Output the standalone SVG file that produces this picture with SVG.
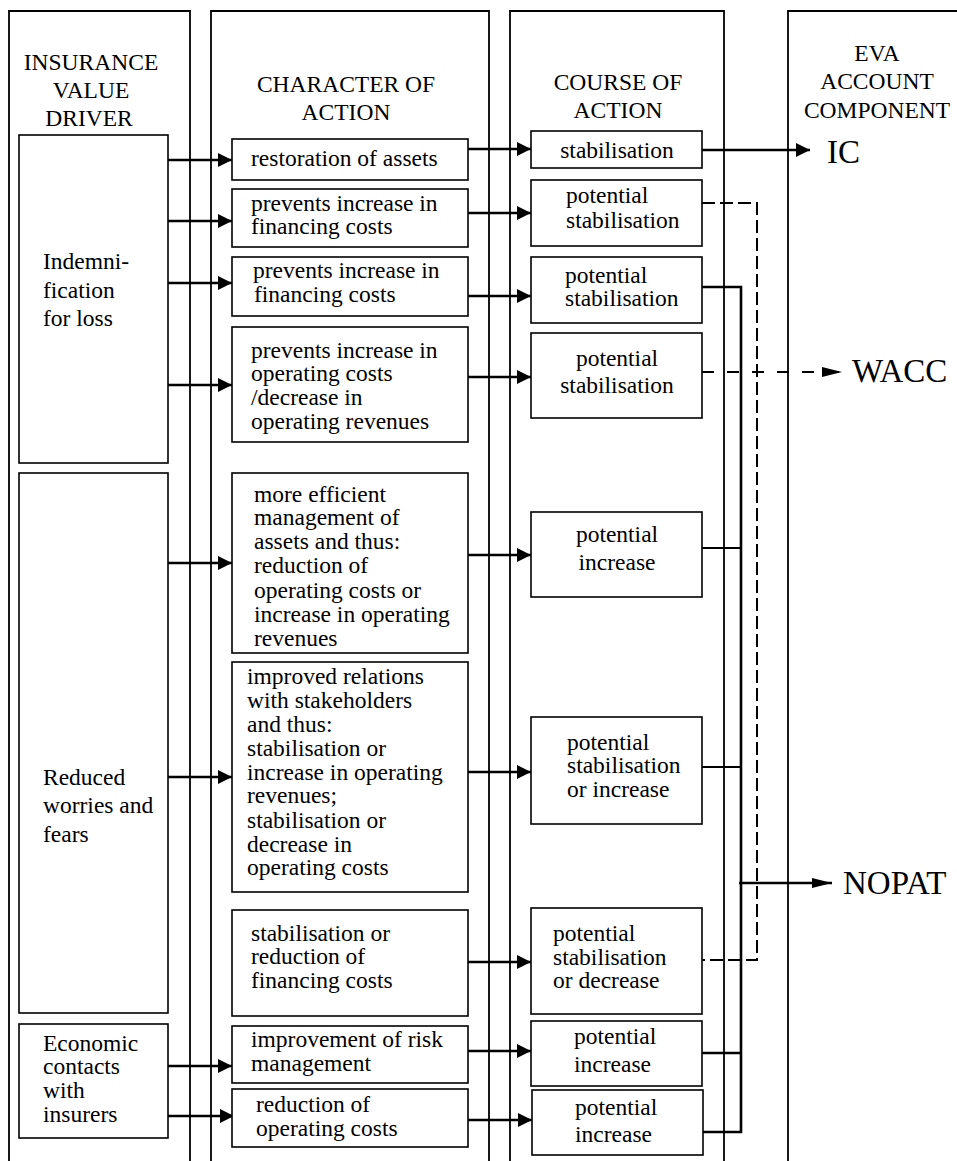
<svg xmlns="http://www.w3.org/2000/svg" width="957" height="1161" viewBox="0 0 957 1161" font-family="'Liberation Serif', 'DejaVu Serif', serif">
<defs>
<style>
text{font-family:'Liberation Serif','DejaVu Serif',serif;font-size:23.5px;fill:#000}
.c{text-anchor:middle}
.col{fill:none;stroke:#000;stroke-width:1.8}
.box{fill:#fff;stroke:#000;stroke-width:1.6}
.ln{fill:none;stroke:#000;stroke-width:2.6}
.thin{fill:none;stroke:#000;stroke-width:1.8}
.dash{fill:none;stroke:#000;stroke-width:2;stroke-dasharray:13 5}
.dash2{fill:none;stroke:#000;stroke-width:2;stroke-dasharray:12 13}
.big{font-size:33px}
</style>
<marker id="ah" viewBox="0 0 10 10" refX="10" refY="5" markerWidth="14" markerHeight="14" markerUnits="userSpaceOnUse" orient="auto">
<path d="M0,0 L10,5 L0,10 z" fill="#000"/>
</marker>
<marker id="ah2" viewBox="0 0 20 10" refX="20" refY="5" markerWidth="20" markerHeight="10" markerUnits="userSpaceOnUse" orient="auto">
<path d="M0,0 L20,5 L0,10 z" fill="#000"/>
</marker>
</defs>
<rect width="957" height="1161" fill="#fff"/>

<g id="columns">
<path class="col" d="M9,1165 V11 H190 V1165"/>
<path class="col" d="M211,1165 V11 H489 V1165"/>
<path class="col" d="M510,1165 V11 H724 V1165"/>
<path class="col" d="M788,1165 V11 H960"/>
<text class="c" x="91" y="70">INSURANCE</text>
<text class="c" x="91" y="98">VALUE</text>
<text class="c" x="89" y="126">DRIVER</text>
<text class="c" x="346" y="92">CHARACTER OF</text>
<text class="c" x="346" y="120">ACTION</text>
<text class="c" x="618" y="90">COURSE OF</text>
<text class="c" x="618" y="118">ACTION</text>
<text class="c" x="877" y="61">EVA</text>
<text class="c" x="877" y="89">ACCOUNT</text>
<text class="c" x="877" y="118">COMPONENT</text>
</g>

<g id="connectors">
<path class="ln" d="M168,160 H232" marker-end="url(#ah)"/>
<path class="ln" d="M168,221 H232" marker-end="url(#ah)"/>
<path class="ln" d="M168,283 H232" marker-end="url(#ah)"/>
<path class="ln" d="M168,385 H232" marker-end="url(#ah)"/>
<path class="ln" d="M168,563 H232" marker-end="url(#ah)"/>
<path class="ln" d="M168,777 H232" marker-end="url(#ah)"/>
<path class="ln" d="M168,1066 H232" marker-end="url(#ah)"/>
<path class="ln" d="M168,1116 H234" marker-end="url(#ah)"/>

<path class="ln" d="M468,149 H531" marker-end="url(#ah)"/>
<path class="ln" d="M468,213 H531" marker-end="url(#ah)"/>
<path class="ln" d="M468,296 H531" marker-end="url(#ah)"/>
<path class="ln" d="M468,377 H531" marker-end="url(#ah)"/>
<path class="ln" d="M468,555 H531" marker-end="url(#ah)"/>
<path class="ln" d="M468,772 H531" marker-end="url(#ah)"/>
<path class="ln" d="M468,962 H531" marker-end="url(#ah)"/>
<path class="ln" d="M468,1051 H531" marker-end="url(#ah)"/>
<path class="ln" d="M468,1120 H532" marker-end="url(#ah)"/>

<path class="ln" d="M702,150 H810" marker-end="url(#ah)"/>
<path class="dash" d="M702,203 H757 V960 H702"/>
<path class="dash2" d="M702,372 H842" marker-end="url(#ah2)"/>
<path class="ln" d="M702,287 H741 V1132 H702"/>
<path class="thin" d="M702,548 H741"/>
<path class="thin" d="M702,767 H741"/>
<path class="ln" d="M702,1053 H741"/>
<path class="ln" d="M739,883 H832" marker-end="url(#ah2)"/>
</g>

<g id="d-indemnification">
<rect class="box" x="19" y="135" width="149" height="328"/>
<text x="43" y="269">Indemni-</text>
<text x="43" y="298">fication</text>
<text x="43" y="326">for loss</text>
</g>
<g id="d-reduced">
<rect class="box" x="19" y="473" width="149" height="540"/>
<text x="43" y="785">Reduced</text>
<text x="43" y="813">worries and</text>
<text x="43" y="842">fears</text>
</g>
<g id="d-economic">
<rect class="box" x="19" y="1024" width="149" height="114"/>
<text x="43" y="1051">Economic</text>
<text x="43" y="1074">contacts</text>
<text x="43" y="1098">with</text>
<text x="43" y="1122">insurers</text>
</g>

<g id="a1">
<rect class="box" x="232" y="139" width="236" height="41"/>
<text x="251" y="166">restoration of assets</text>
</g>
<g id="a2">
<rect class="box" x="232" y="189" width="236" height="58"/>
<text x="251" y="211">prevents increase in</text>
<text x="251" y="234">financing costs</text>
</g>
<g id="a3">
<rect class="box" x="232" y="257" width="236" height="59"/>
<text x="253" y="278">prevents increase in</text>
<text x="254" y="302">financing costs</text>
</g>
<g id="a4">
<rect class="box" x="232" y="327" width="236" height="115"/>
<text x="251" y="358">prevents increase in</text>
<text x="251" y="381">operating costs</text>
<text x="251" y="405">/decrease in</text>
<text x="251" y="429">operating revenues</text>
</g>
<g id="a5">
<rect class="box" x="232" y="473" width="236" height="180"/>
<text x="254" y="502">more efficient</text>
<text x="254" y="525">management of</text>
<text x="254" y="549">assets and thus:</text>
<text x="254" y="573">reduction of</text>
<text x="254" y="598">operating costs or</text>
<text x="254" y="622">increase in operating</text>
<text x="254" y="646">revenues</text>
</g>
<g id="a6">
<rect class="box" x="232" y="662" width="236" height="230"/>
<text x="247" y="684">improved relations</text>
<text x="247" y="708">with stakeholders</text>
<text x="247" y="732">and thus:</text>
<text x="247" y="756">stabilisation or</text>
<text x="247" y="780">increase in operating</text>
<text x="247" y="803">revenues;</text>
<text x="247" y="828">stabilisation or</text>
<text x="247" y="852">decrease in</text>
<text x="247" y="875">operating costs</text>
</g>
<g id="a7">
<rect class="box" x="232" y="910" width="236" height="106"/>
<text x="251" y="941">stabilisation or</text>
<text x="251" y="964">reduction of</text>
<text x="251" y="988">financing costs</text>
</g>
<g id="a8">
<rect class="box" x="232" y="1026" width="236" height="57"/>
<text x="251" y="1047">improvement of risk</text>
<text x="251" y="1071">management</text>
</g>
<g id="a9">
<rect class="box" x="232" y="1089" width="236" height="58"/>
<text x="256" y="1112">reduction of</text>
<text x="256" y="1136">operating costs</text>
</g>

<g id="c1">
<rect class="box" x="531" y="131" width="171" height="37"/>
<text class="c" x="617" y="158">stabilisation</text>
</g>
<g id="c2">
<rect class="box" x="531" y="180" width="171" height="66"/>
<text x="566" y="203">potential</text>
<text x="566" y="228">stabilisation</text>
</g>
<g id="c3">
<rect class="box" x="531" y="257" width="171" height="66"/>
<text x="565" y="283">potential</text>
<text x="565" y="306">stabilisation</text>
</g>
<g id="c4">
<rect class="box" x="531" y="333" width="171" height="85"/>
<text class="c" x="617" y="366">potential</text>
<text class="c" x="617" y="393">stabilisation</text>
</g>
<g id="c5">
<rect class="box" x="531" y="512" width="171" height="85"/>
<text class="c" x="617" y="542">potential</text>
<text class="c" x="617" y="570">increase</text>
</g>
<g id="c6">
<rect class="box" x="531" y="717" width="171" height="107"/>
<text x="567" y="750">potential</text>
<text x="567" y="773">stabilisation</text>
<text x="567" y="797">or increase</text>
</g>
<g id="c7">
<rect class="box" x="531" y="908" width="171" height="106"/>
<text x="553" y="941">potential</text>
<text x="553" y="965">stabilisation</text>
<text x="553" y="988">or decrease</text>
</g>
<g id="c8">
<rect class="box" x="531" y="1021" width="171" height="65"/>
<text x="574" y="1044">potential</text>
<text x="574" y="1072">increase</text>
</g>
<g id="c9">
<rect class="box" x="532" y="1090" width="171" height="65"/>
<text x="575" y="1115">potential</text>
<text x="575" y="1142">increase</text>
</g>

<g id="e-ic"><text class="big" x="827" y="163">IC</text></g>
<g id="e-wacc"><text class="big" x="852" y="382">WACC</text></g>
<g id="e-nopat"><text class="big" x="843" y="894">NOPAT</text></g>
</svg>
